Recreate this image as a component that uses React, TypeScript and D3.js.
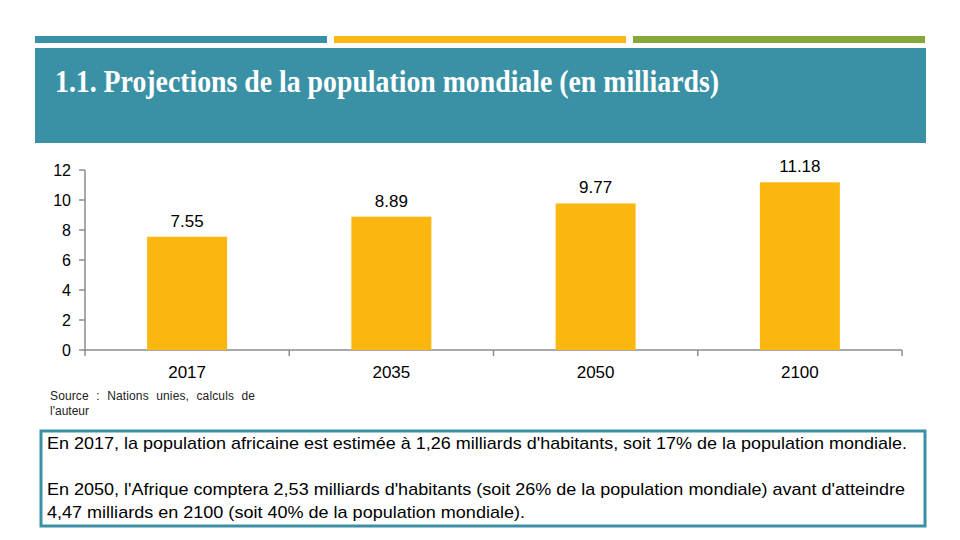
import React from "react";
import * as d3 from "d3";

const categories = ["2017", "2035", "2050", "2100"];
const values = [7.55, 8.89, 9.77, 11.18];
const valueLabels = ["7.55", "8.89", "9.77", "11.18"];
const yTicks = [0, 2, 4, 6, 8, 10, 12];
const title = "1.1. Projections de la population mondiale (en milliards)";
const sourceLines = ["Source : Nations unies, calculs de", "l'auteur"];
const noteLines = [
  "En 2017, la population africaine est estimée à 1,26 milliards d'habitants, soit 17% de la population mondiale.",
  "En 2050, l'Afrique comptera 2,53 milliards d'habitants (soit 26% de la population mondiale) avant d'atteindre",
  "4,47 milliards en 2100 (soit 40% de la population mondiale).",
];

const TEAL = "#3A91A6";
const YELLOW = "#FBB714";
const GREEN = "#85A83B";
const BAR = "#FBB60F";
const AXIS = "#8C8C8C";

export default function App() {
  const x0 = 85, x1 = 902, yBase = 350, yTop = 170;
  const x = d3.scaleBand<string>().domain(categories).range([x0, x1]).paddingInner(0).paddingOuter(0);
  const y = d3.scaleLinear().domain([0, 12]).range([yBase, yTop]);
  const bw = 80;
  const font = "Arial, 'Liberation Sans', sans-serif";
  const boundaries = d3.range(categories.length + 1).map((i) => x0 + i * x.bandwidth());
  return (
    <svg width={960} height={540} style={{ position: "absolute", left: 0, top: 0 }}>
      <rect x={0} y={0} width={960} height={540} fill="#fff" />
      <rect x={35} y={36} width={292} height={7} fill={TEAL} />
      <rect x={334} y={36} width={292} height={7} fill={YELLOW} />
      <rect x={633} y={36} width={292} height={7} fill={GREEN} />
      <rect x={35} y={48} width={891} height={95} fill={TEAL} />
      <text x={55} y={92} fill="#fff" fontFamily="'Liberation Serif', 'Times New Roman', serif" fontSize={31}
        fontWeight={600} textLength={664} lengthAdjust="spacingAndGlyphs">{title}</text>

      {/* y axis */}
      <line x1={x0} x2={x0} y1={y(12)} y2={yBase} stroke={AXIS} strokeWidth={1.5} />
      {yTicks.map((t) => (
        <g key={t}>
          <line x1={x0 - 6} x2={x0} y1={y(t)} y2={y(t)} stroke={AXIS} strokeWidth={1.5} />
          <text x={71} y={y(t) + 5.5} textAnchor="end" fontFamily={font} fontSize={16} fill="#000">{t}</text>
        </g>
      ))}
      {/* x axis */}
      <line x1={x0} x2={x1} y1={yBase} y2={yBase} stroke={AXIS} strokeWidth={1.5} />
      {boundaries.map((b, i) => (
        <line key={i} x1={b} x2={b} y1={yBase} y2={yBase + 6} stroke={AXIS} strokeWidth={1.5} />
      ))}
      {categories.map((c, i) => {
        const cx = (x(c) as number) + x.bandwidth() / 2;
        return (
          <g key={c}>
            <rect x={cx - bw / 2} y={y(values[i])} width={bw} height={yBase - y(values[i])} fill={BAR} />
            <text x={cx} y={y(values[i]) - 10} textAnchor="middle" fontFamily={font} fontSize={17} fill="#000">{valueLabels[i]}</text>
            <text x={cx} y={378} textAnchor="middle" fontFamily={font} fontSize={17} fill="#000">{c}</text>
          </g>
        );
      })}

      {/* source */}
      <text x={50} y={400} fontFamily={font} fontSize={12} fill="#222" textLength={205} lengthAdjust="spacing" wordSpacing={4}>{sourceLines[0]}</text>
      <text x={50} y={415} fontFamily={font} fontSize={12} fill="#222">{sourceLines[1]}</text>

      {/* note box */}
      <rect x={41} y={431} width={884} height={95} fill="#fff" stroke={TEAL} strokeWidth={3} />
      <text x={47} y={449} fontFamily={font} fontSize={17} fill="#000" textLength={860} lengthAdjust="spacingAndGlyphs">{noteLines[0]}</text>
      <text x={47} y={495} fontFamily={font} fontSize={17} fill="#000" textLength={858} lengthAdjust="spacingAndGlyphs">{noteLines[1]}</text>
      <text x={47} y={518} fontFamily={font} fontSize={17} fill="#000" textLength={478} lengthAdjust="spacingAndGlyphs">{noteLines[2]}</text>
    </svg>
  );
}
